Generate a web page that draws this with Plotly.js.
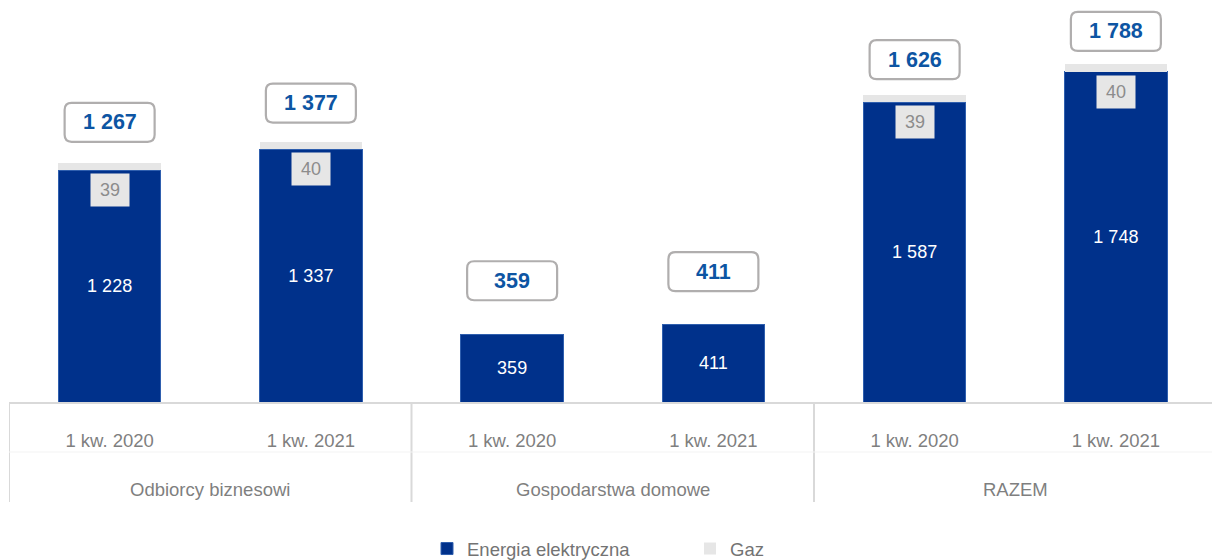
<!DOCTYPE html>
<html><head><meta charset="utf-8">
<script src="https://cdn.plot.ly/plotly-3.0.1.min.js"></script>
<style>body{margin:0;background:#fff}#c{width:1212px;height:560px}</style>
</head><body><div id="c"></div>
<script>
const groups = ["Odbiorcy biznesowi", "Gospodarstwa domowe", "RAZEM"];
const periods = ["1 kw. 2020", "1 kw. 2021", "1 kw. 2020", "1 kw. 2021", "1 kw. 2020", "1 kw. 2021"];
const energia = [1228, 1337, 359, 411, 1587, 1748];
const gaz = [39, 40, 0, 0, 39, 40];
const razem = [1267, 1377, 359, 411, 1626, 1788];

const fmt = v => String(v).replace(/\B(?=(\d{3})+(?!\d))/g, ' ');
const xs = periods.map((_, i) => i);
const FONT = 'Liberation Sans, Arial, sans-serif';
const GREY = '#7f7f7f';

// pixel geometry of plot
const plotW = 1203, slotPx = 201.25;
const xRange = [-0.5, -0.5 + plotW / slotPx];
const plotH = 402;
const y2Range = [-336, 1968];
const y2PerPx = (y2Range[1] - y2Range[0]) / plotH;
const xPerPx = 1 / slotPx;

const traces = [
  {type: 'bar', name: 'Energia elektryczna', x: xs, y: energia,
   marker: {color: '#00318b', line: {color: '#2f5fae', width: 1}},
   width: 0.51, text: energia.map(fmt), textposition: 'inside', insidetextanchor: 'middle',
   constraintext: 'none', textfont: {color: '#ffffff', size: 18, family: FONT},
   hoverinfo: 'none'},
  {type: 'bar', name: 'Gaz', x: xs, y: gaz,
   marker: {color: '#e6e6e6'}, width: 0.51, hoverinfo: 'none'}
];

const annotations = [];
const shapes = [];
// total boxes (rounded) and labels
razem.forEach((t, i) => {
  const hw = 45 * xPerPx, hh = 19.5 * y2PerPx, rx = 7 * xPerPx, ry = 7 * y2PerPx;
  const x0 = i - hw, x1 = i + hw, y0 = t - hh, y1 = t + hh;
  const path = `M ${x0 + rx},${y0} L ${x1 - rx},${y0} Q ${x1},${y0} ${x1},${y0 + ry} L ${x1},${y1 - ry} Q ${x1},${y1} ${x1 - rx},${y1} L ${x0 + rx},${y1} Q ${x0},${y1} ${x0},${y1 - ry} L ${x0},${y0 + ry} Q ${x0},${y0} ${x0 + rx},${y0} Z`;
  shapes.push({type: 'path', xref: 'x', yref: 'y2', path: path,
    line: {color: '#b0aeae', width: 2.2}, fillcolor: '#ffffff', layer: 'above'});
  annotations.push({xref: 'x', yref: 'y2', x: i, y: t, text: '<b>' + fmt(t) + '</b>',
    showarrow: false, font: {size: 21.5, color: '#0d55a3', family: FONT}});
});
// gas labels
gaz.forEach((g, i) => {
  if (g > 0) annotations.push({xref: 'x', yref: 'y', x: i, y: energia[i], yanchor: 'top', yshift: -3,
    text: String(g), showarrow: false, width: 36, height: 30, bgcolor: '#e6e6e6',
    font: {size: 18, color: '#8c8c8c', family: FONT}});
});
// group labels
groups.forEach((g, k) => {
  annotations.push({xref: 'x', yref: 'paper', x: 2 * k + 0.5, y: -(490 - 402) / plotH, yanchor: 'middle',
    text: g, showarrow: false, font: {size: 18.5, color: GREY, family: FONT}});
});
// dividers
[-0.5, 1.5, 3.5, 5.5].forEach(x => {
  shapes.push({type: 'line', xref: 'x', yref: 'paper', x0: x, x1: x, y0: 0, y1: -(502 - 402) / plotH,
    line: {color: '#d9d9d9', width: 2}});
});
shapes.push({type: 'line', xref: 'paper', yref: 'paper', x0: 0, x1: 1, y0: -(452 - 402) / plotH, y1: -(452 - 402) / plotH,
  line: {color: '#f3f3f3', width: 1}});

const layout = {
  width: 1212, height: 560, barmode: 'stack',
  margin: {l: 9, r: 0, t: 0, b: 158, autoexpand: false},
  paper_bgcolor: '#ffffff', plot_bgcolor: '#ffffff',
  font: {family: FONT, color: GREY},
  xaxis: {range: xRange, tickvals: xs, ticktext: periods, ticks: '', showgrid: false, zeroline: false,
    showline: true, linecolor: '#d9d9d9', linewidth: 2, ticklabelstandoff: 21, automargin: false,
    tickfont: {size: 18.5, color: GREY, family: FONT}, fixedrange: true},
  yaxis: {range: [0, 2128], visible: false, showgrid: false, zeroline: false, fixedrange: true, automargin: false},
  yaxis2: {range: y2Range, overlaying: 'y', visible: false, showgrid: false, zeroline: false, automargin: false},
  showlegend: true,
  legend: {orientation: 'h', xref: 'container', yref: 'container', x: 427 / 1212, xanchor: 'left',
    y: 11 / 560, yanchor: 'middle',
    font: {size: 18.5, color: '#737373', family: FONT}, entrywidth: 218, traceorder: 'normal',
    itemclick: false, itemdoubleclick: false},
  annotations: annotations, shapes: shapes
};
Plotly.newPlot('c', traces, layout, {displayModeBar: false, staticPlot: true});
</script>
</body></html>
